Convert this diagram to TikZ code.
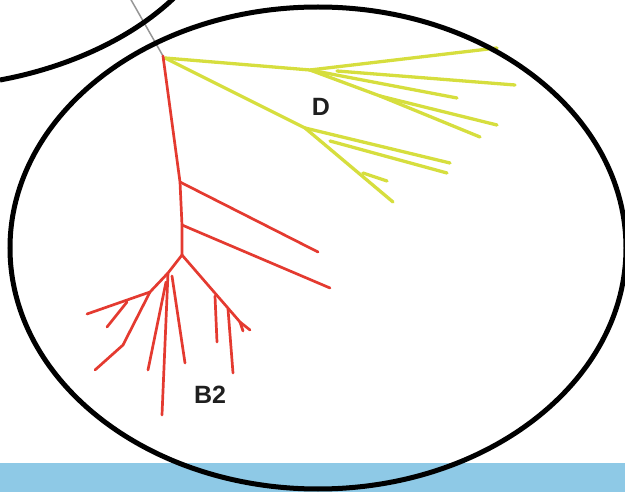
\documentclass[tikz,border=0pt]{standalone}
\usepackage{fontspec}
\setmainfont{Liberation Sans}
\definecolor{bandblue}{RGB}{142,201,230}
\definecolor{treered}{RGB}{228,58,48}
\definecolor{treeyellow}{RGB}{214,222,62}
\definecolor{stemgray}{RGB}{150,150,150}
\begin{document}
\begin{tikzpicture}[x=1pt,y=-1pt,
  redline/.style={treered,line width=2.7pt,line cap=round,line join=round},
  yel/.style={treeyellow,line width=3.3pt,line cap=round,line join=round},
  outline/.style={black,line width=5pt},
  lbl/.style={font=\fontsize{25}{25}\selectfont\bfseries,text=black!88,inner sep=0pt}]
\useasboundingbox (0,0) rectangle (625,492);
\begin{scope}
\clip (0,0) rectangle (625,492);
\fill[bandblue] (0,463) rectangle (625,492);
% gray stem
\draw[stemgray,line width=1.5pt] (130,-2) -- (163,56);
% yellow tree D
\coordinate (R) at (165,58);
\coordinate (Y1) at (310,70);
\coordinate (Y2) at (305,128);
\draw[yel] (R) -- (Y1) -- (497,48);
\draw[yel] (337,71) -- (515,85);
\draw[yel] (Y1) -- (457,98);
\draw[yel] (Y1) -- (380,96) -- (497,125);
\draw[yel] (380,96) -- (480,137);
\draw[yel] (R) -- (Y2) -- (393,202);
\draw[yel] (Y2) -- (450,163);
\draw[yel] (330,141) -- (447,173);
\draw[yel] (363,173) -- (387,181);
% red tree B2
\coordinate (S0) at (163,56);
\coordinate (S1) at (180,182);
\coordinate (S2) at (182,225);
\coordinate (J) at (182,255);
\coordinate (A) at (168,273);
\coordinate (L) at (150,292);
\draw[redline] (S0) -- (S1) -- (S2) -- (J);
\draw[redline] (S1) -- (318,252);
\draw[redline] (S2) -- (330,288);
\draw[redline] (J) -- (240,322) -- (250,330);
\draw[redline] (240,322) -- (243,331);
\draw[redline] (215,296) -- (217,342);
\draw[redline] (228,309) -- (233,373);
\draw[redline] (J) -- (A) -- (162,415);
\draw[redline] (172,276) -- (185,363);
\draw[redline] (166,282) -- (148,370);
\draw[redline] (A) -- (L) -- (87,314);
\draw[redline] (127,302) -- (107,327);
\draw[redline] (L) -- (123,345) -- (95,370);
% ellipses
\draw[outline] (0,80) .. controls (60,69) and (130,42) .. (178,-6);
\draw[outline] (318,248) ellipse [x radius=308pt, y radius=241pt];
% labels
\node[lbl] (D) at (321,107) {D};
\node[lbl] (B2) at (210,395) {B2};
\end{scope}
\end{tikzpicture}
\end{document}
